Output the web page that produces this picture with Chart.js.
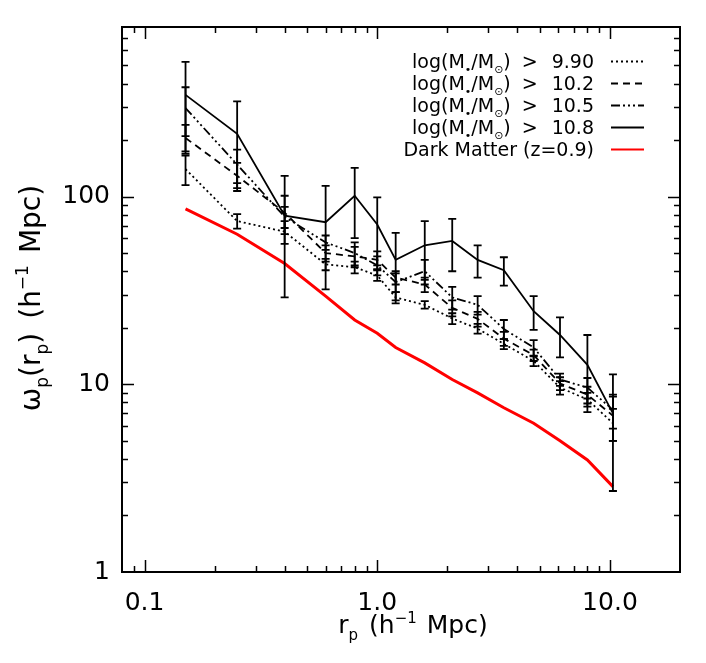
<!DOCTYPE html>
<html>
<head>
<meta charset="utf-8">
<script src="https://cdn.jsdelivr.net/npm/chart.js@4.4.1/dist/chart.umd.min.js"></script>
<style>
  html, body { margin: 0; padding: 0; background: #fff; }
  #wrap { width: 706px; height: 663px; position: relative; }
</style>
</head>
<body>
<div id="wrap"><canvas id="wpChart"></canvas></div>
<script>
// projected separation bins (h^-1 Mpc)
var rp = [0.15, 0.25, 0.40, 0.60, 0.80, 1.0, 1.2, 1.6, 2.1, 2.7, 3.5, 4.7, 6.1, 8.0, 10.3];

// w_p(r_p) per stellar mass threshold, with 1-sigma errors
var wp990 = [140, 74, 65, 43.5, 42, 38, 29, 26.5, 22.4, 19.8, 16.4, 13.3, 9.6, 8.3, 6.2];
var err990 = [25, 6.5, 9, 3, 3, 2.5, 2, 1.2, 1.5, 1.2, 1, 0.8, 0.8, 0.7, 1.2];
var wp102 = [205, 129, 82, 50, 48, 46, 37, 34, 25.5, 22.3, 17.5, 14.3, 10.1, 8.8, 6.8];
var err102 = [36, 22, 19, 5, 6, 5, 3, 3, 2.5, 2, 1.5, 1, 0.8, 0.9, 1.8];
var wp105 = [296, 148, 78, 57, 50, 43, 35, 40, 29, 26.5, 19.7, 15.7, 10.6, 9.6, 7.3];
var err105 = [86, 30, 10, 5, 7, 5, 4, 6, 4, 3, 2.3, 1.5, 0.8, 1.2, 1.5];
var wp108 = [348, 216, 79, 73, 101, 71, 46, 55, 58, 46, 40.5, 24.5, 18.3, 12.7, 7.0];
var err108 = [174, 105, 50, 41, 41, 28, 18, 19, 18, 9, 7, 5, 4.4, 5.6, 4.3];

// dark matter at z=0.9
var wpDM = [86, 63, 44, 29.5, 22, 18.7, 15.7, 13, 10.6, 9.0, 7.5, 6.2, 5.0, 3.95, 2.85];

var massCuts = ["9.90", "10.2", "10.5", "10.8"];
var dmLabel = "Dark Matter (z=0.9)";

var xTicks = [0.1, 1, 10];
var xTickLabels = ["0.1", "1.0", "10.0"];
var yTicks = [1, 10, 100];
var yTickLabels = ["1", "10", "100"];

var FONT = "'DejaVu Sans', sans-serif";

function pts(ys) {
  return rp.map(function (x, i) { return { x: x, y: ys[i] }; });
}

function series(label, ys, errs, dash, color, width) {
  return {
    label: label,
    data: pts(ys),
    errs: errs,
    borderColor: color,
    borderWidth: width,
    borderDash: dash,
    pointRadius: 0,
    tension: 0,
    fill: false
  };
}

var datasets = [
  series(massCuts[0], wp990, err990, [2, 3], "#000", 1.8),
  series(massCuts[1], wp102, err102, [7, 5], "#000", 1.8),
  series(massCuts[2], wp105, err105, [9, 3, 2, 3, 2, 3, 2, 3], "#000", 1.8),
  series(massCuts[3], wp108, err108, [], "#000", 1.8),
  series(dmLabel, wpDM, null, [], "#ff0000", 3)
];

// draws text pieces with sub/superscripts, returns width
function rich(ctx, segs, size, x, y, align, draw) {
  var w = 0, i, s;
  for (i = 0; i < segs.length; i++) {
    s = segs[i];
    if (s.gap) { w += s.gap; continue; }
    ctx.font = Math.round(size * (s.sub || s.sup ? 0.6 : 1)) + "px " + FONT;
    w += ctx.measureText(s.t).width;
  }
  if (!draw) return w;
  var cx = align === "right" ? x - w : (align === "center" ? x - w / 2 : x);
  ctx.textBaseline = "alphabetic";
  ctx.textAlign = "left";
  for (i = 0; i < segs.length; i++) {
    s = segs[i];
    if (s.gap) { cx += s.gap; continue; }
    var fs = Math.round(size * (s.sub || s.sup ? 0.6 : 1));
    ctx.font = fs + "px " + FONT;
    var dy = s.sub ? size * 0.28 : (s.sup ? -size * 0.42 : 0);
    ctx.fillText(s.t, cx, y + dy);
    cx += ctx.measureText(s.t).width;
  }
  return w;
}

function minors(min, max) {
  var out = [];
  for (var k = Math.floor(Math.log10(min)); k <= Math.ceil(Math.log10(max)); k++) {
    for (var d = 1; d <= 9; d++) {
      var v = d * Math.pow(10, k);
      if (v > min * 1.0001 && v < max * 0.9999) out.push({ v: v, major: d === 1 });
    }
  }
  return out;
}

var errorBars = {
  id: "errorBars",
  afterDatasetsDraw: function (chart) {
    var ctx = chart.ctx, xs = chart.scales.x, ys = chart.scales.y, a = chart.chartArea;
    ctx.save();
    ctx.beginPath();
    ctx.rect(a.left, a.top, a.right - a.left, a.bottom - a.top);
    ctx.clip();
    ctx.strokeStyle = "#000";
    ctx.lineWidth = 1.8;
    ctx.setLineDash([]);
    chart.data.datasets.forEach(function (ds) {
      if (!ds.errs) return;
      ds.data.forEach(function (p, i) {
        var e = ds.errs[i];
        var px = xs.getPixelForValue(p.x);
        var hi = ys.getPixelForValue(p.y + e);
        var lo = ys.getPixelForValue(Math.max(p.y - e, 0.01));
        ctx.beginPath();
        ctx.moveTo(px, hi); ctx.lineTo(px, lo);
        ctx.moveTo(px - 4, hi); ctx.lineTo(px + 4, hi);
        ctx.moveTo(px - 4, lo); ctx.lineTo(px + 4, lo);
        ctx.stroke();
      });
    });
    ctx.restore();
  }
};

var frame = {
  id: "frame",
  afterDraw: function (chart) {
    var ctx = chart.ctx, a = chart.chartArea, xs = chart.scales.x, ys = chart.scales.y;
    ctx.save();
    ctx.strokeStyle = "#000";
    ctx.fillStyle = "#000";
    ctx.lineWidth = 2;
    ctx.setLineDash([]);
    ctx.strokeRect(a.left, a.top, a.right - a.left, a.bottom - a.top);

    ctx.lineWidth = 1.5;
    ctx.beginPath();
    minors(xs.min, xs.max).forEach(function (t) {
      var px = Math.round(xs.getPixelForValue(t.v)) + 0.5;
      var len = t.major ? 12 : 6;
      ctx.moveTo(px, a.bottom); ctx.lineTo(px, a.bottom - len);
      ctx.moveTo(px, a.top); ctx.lineTo(px, a.top + len);
    });
    minors(ys.min, ys.max).forEach(function (t) {
      var py = Math.round(ys.getPixelForValue(t.v)) + 0.5;
      var len = t.major ? 12 : 6;
      ctx.moveTo(a.left, py); ctx.lineTo(a.left + len, py);
      ctx.moveTo(a.right, py); ctx.lineTo(a.right - len, py);
    });
    ctx.stroke();

    // axis titles
    rich(ctx, [{ t: "r" }, { t: "p", sub: true }, { gap: 11 }, { t: "(h" }, { t: "\u22121", sup: true },
      { gap: 10 }, { t: "Mpc)" }], 25, 413, 633, "center", true);

    ctx.save();
    ctx.translate(40, 298);
    ctx.rotate(-Math.PI / 2);
    rich(ctx, [{ t: "\u03c9" }, { t: "p", sub: true }, { t: "(r" }, { t: "p", sub: true }, { t: ")" },
      { gap: 14 }, { t: "(h" }, { t: "\u22121", sup: true }, { gap: 12 }, { t: "Mpc)" }], 28, 0, 0, "center", true);
    ctx.restore();

    // legend, text right-aligned with line sample to its right
    var rowY = 61, textRight = 594, x0 = 611, x1 = 644;
    chart.data.datasets.forEach(function (ds, i) {
      var y = rowY + i * 22;
      var segs = ds.errs
        ? [{ t: "log(M" }, { t: "\u2022", sub: true }, { t: "/M" }, { t: "\u2299", sub: true }, { t: ")" },
           { gap: 11 }, { t: ">" }, { gap: 14 }, { t: ds.label }]
        : [{ t: ds.label }];
      ctx.fillStyle = "#000";
      rich(ctx, segs, 19, textRight, y + 7, "right", true);
      ctx.strokeStyle = ds.borderColor;
      ctx.lineWidth = ds.errs ? 1.8 : 2;
      ctx.setLineDash(ds.borderDash);
      ctx.beginPath();
      ctx.moveTo(x0, y + 0.5); ctx.lineTo(x1, y + 0.5);
      ctx.stroke();
    });
    ctx.restore();
  }
};

new Chart(document.getElementById("wpChart").getContext("2d"), {
  type: "line",
  data: { datasets: datasets },
  options: {
    responsive: true,
    maintainAspectRatio: false,
    animation: false,
    layout: { padding: { top: 22, right: 26, left: 0, bottom: 0 } },
    plugins: {
      legend: { display: false },
      tooltip: { enabled: false }
    },
    scales: {
      x: {
        type: "logarithmic",
        min: 0.08,
        max: 20,
        grid: { display: false, drawTicks: false },
        border: { display: false },
        afterBuildTicks: function (scale) {
          scale.ticks = xTicks.map(function (v) { return { value: v }; });
        },
        afterFit: function (scale) { scale.height = 91; },
        ticks: {
          autoSkip: false,
          maxRotation: 0,
          padding: 16,
          color: "#000",
          font: { family: FONT, size: 25 },
          callback: function (v) {
            var i = xTicks.indexOf(v);
            return i >= 0 ? xTickLabels[i] : "";
          }
        }
      },
      y: {
        type: "logarithmic",
        min: 1,
        max: 800,
        grid: { display: false, drawTicks: false },
        border: { display: false },
        afterBuildTicks: function (scale) {
          scale.ticks = yTicks.map(function (v) { return { value: v }; });
        },
        afterFit: function (scale) { scale.width = 122; },
        ticks: {
          autoSkip: false,
          padding: 12,
          color: "#000",
          font: { family: FONT, size: 25 },
          callback: function (v) {
            var i = yTicks.indexOf(v);
            return i >= 0 ? yTickLabels[i] : "";
          }
        }
      }
    }
  },
  plugins: [errorBars, frame]
});
</script>
</body>
</html>
